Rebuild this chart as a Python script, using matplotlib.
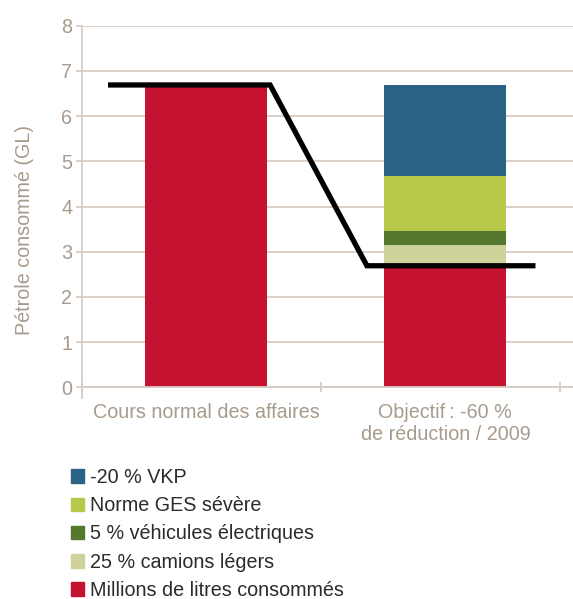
import numpy as np
import matplotlib
matplotlib.use('Agg')
import matplotlib.pyplot as plt
from matplotlib.patches import Patch

plt.rcParams['font.family'] = ['Liberation Sans', 'DejaVu Sans']

# data
categories = ['Cours normal des affaires', 'Objectif\u2009: -60 %\nde réduction / 2009']
series_names = ['Millions de litres consommés', '25 % camions légers',
                '5 % véhicules électriques', 'Norme GES sévère', '-20 % VKP']
series_colors = ['#c41230', '#cfd39b', '#56772e', '#b8c84a', '#2a6384']
# values for each series: [cours normal, objectif]
conso = [6.70, 2.70]
camions = [0.0, 0.45]
electriques = [0.0, 0.30]
norme_ges = [0.0, 1.23]
vkp = [0.0, 2.02]
# black target line (x in category units, y in GL)
target_x = [-0.40, 0.267, 0.672, 1.366]
target_y = [6.69, 6.69, 2.69, 2.69]

tan = '#a89a8c'
grid_c = '#d8cdc4'
fs = 14.2

fig = plt.figure(figsize=(5.73, 5.99), dpi=100)
ax = fig.add_axes([0.143, 0.336, 0.857, 0.621])

x = np.arange(len(categories))
bottom = np.zeros(len(categories))
for vals, name, col in zip([conso, camions, electriques, norme_ges, vkp], series_names, series_colors):
    ax.bar(x, vals, 0.51, bottom=bottom, color=col, label=name, zorder=2)
    bottom += np.array(vals)

ax.plot(target_x, target_y, color='black', lw=3.8, zorder=3, solid_joinstyle='miter')

ax.set_xlim(-0.52, 1.534)
ax.set_ylim(-0.23, 8)
ax.set_yticks(range(0, 9))
ax.yaxis.grid(True, color=grid_c, lw=1.3, zorder=0)
ax.set_axisbelow(True)

for s in ['top', 'right']:
    ax.spines[s].set_visible(False)
ax.spines['left'].set_color(grid_c)
ax.spines['left'].set_linewidth(1.3)
ax.spines['bottom'].set_position(('data', 0))
ax.spines['bottom'].set_color(grid_c)
ax.spines['bottom'].set_linewidth(1.3)

ax.set_xticks([-0.52, 0.48, 1.48])
ax.set_xticklabels([])
ax.set_xticks(x, minor=True)
ax.set_xticklabels(categories, minor=True, linespacing=1.25)
ax.tick_params(axis='x', which='major', direction='inout', length=7, color=grid_c, width=1.3)
ax.tick_params(axis='x', which='minor', length=0, pad=11, labelsize=fs, labelcolor=tan)
ax.tick_params(axis='y', length=4, color=grid_c, width=1.3, pad=3, labelsize=fs, labelcolor=tan)

ax.set_ylabel('Pétrole consommé (GL)', color=tan, fontsize=fs)
ax.yaxis.set_label_coords(-0.098, 0.45)

handles = [Patch(color=c, label=n) for n, c in zip(series_names, series_colors)][::-1]
leg = fig.legend(handles=handles, loc='upper left', bbox_to_anchor=(0.11, 0.232),
                 frameon=False, fontsize=fs, handlelength=0.68, handleheight=0.68,
                 handletextpad=0.3, labelspacing=0.47, borderaxespad=0)
for t in leg.get_texts():
    t.set_color('#2b2b2b')

fig.savefig('out.png', dpi=100)
